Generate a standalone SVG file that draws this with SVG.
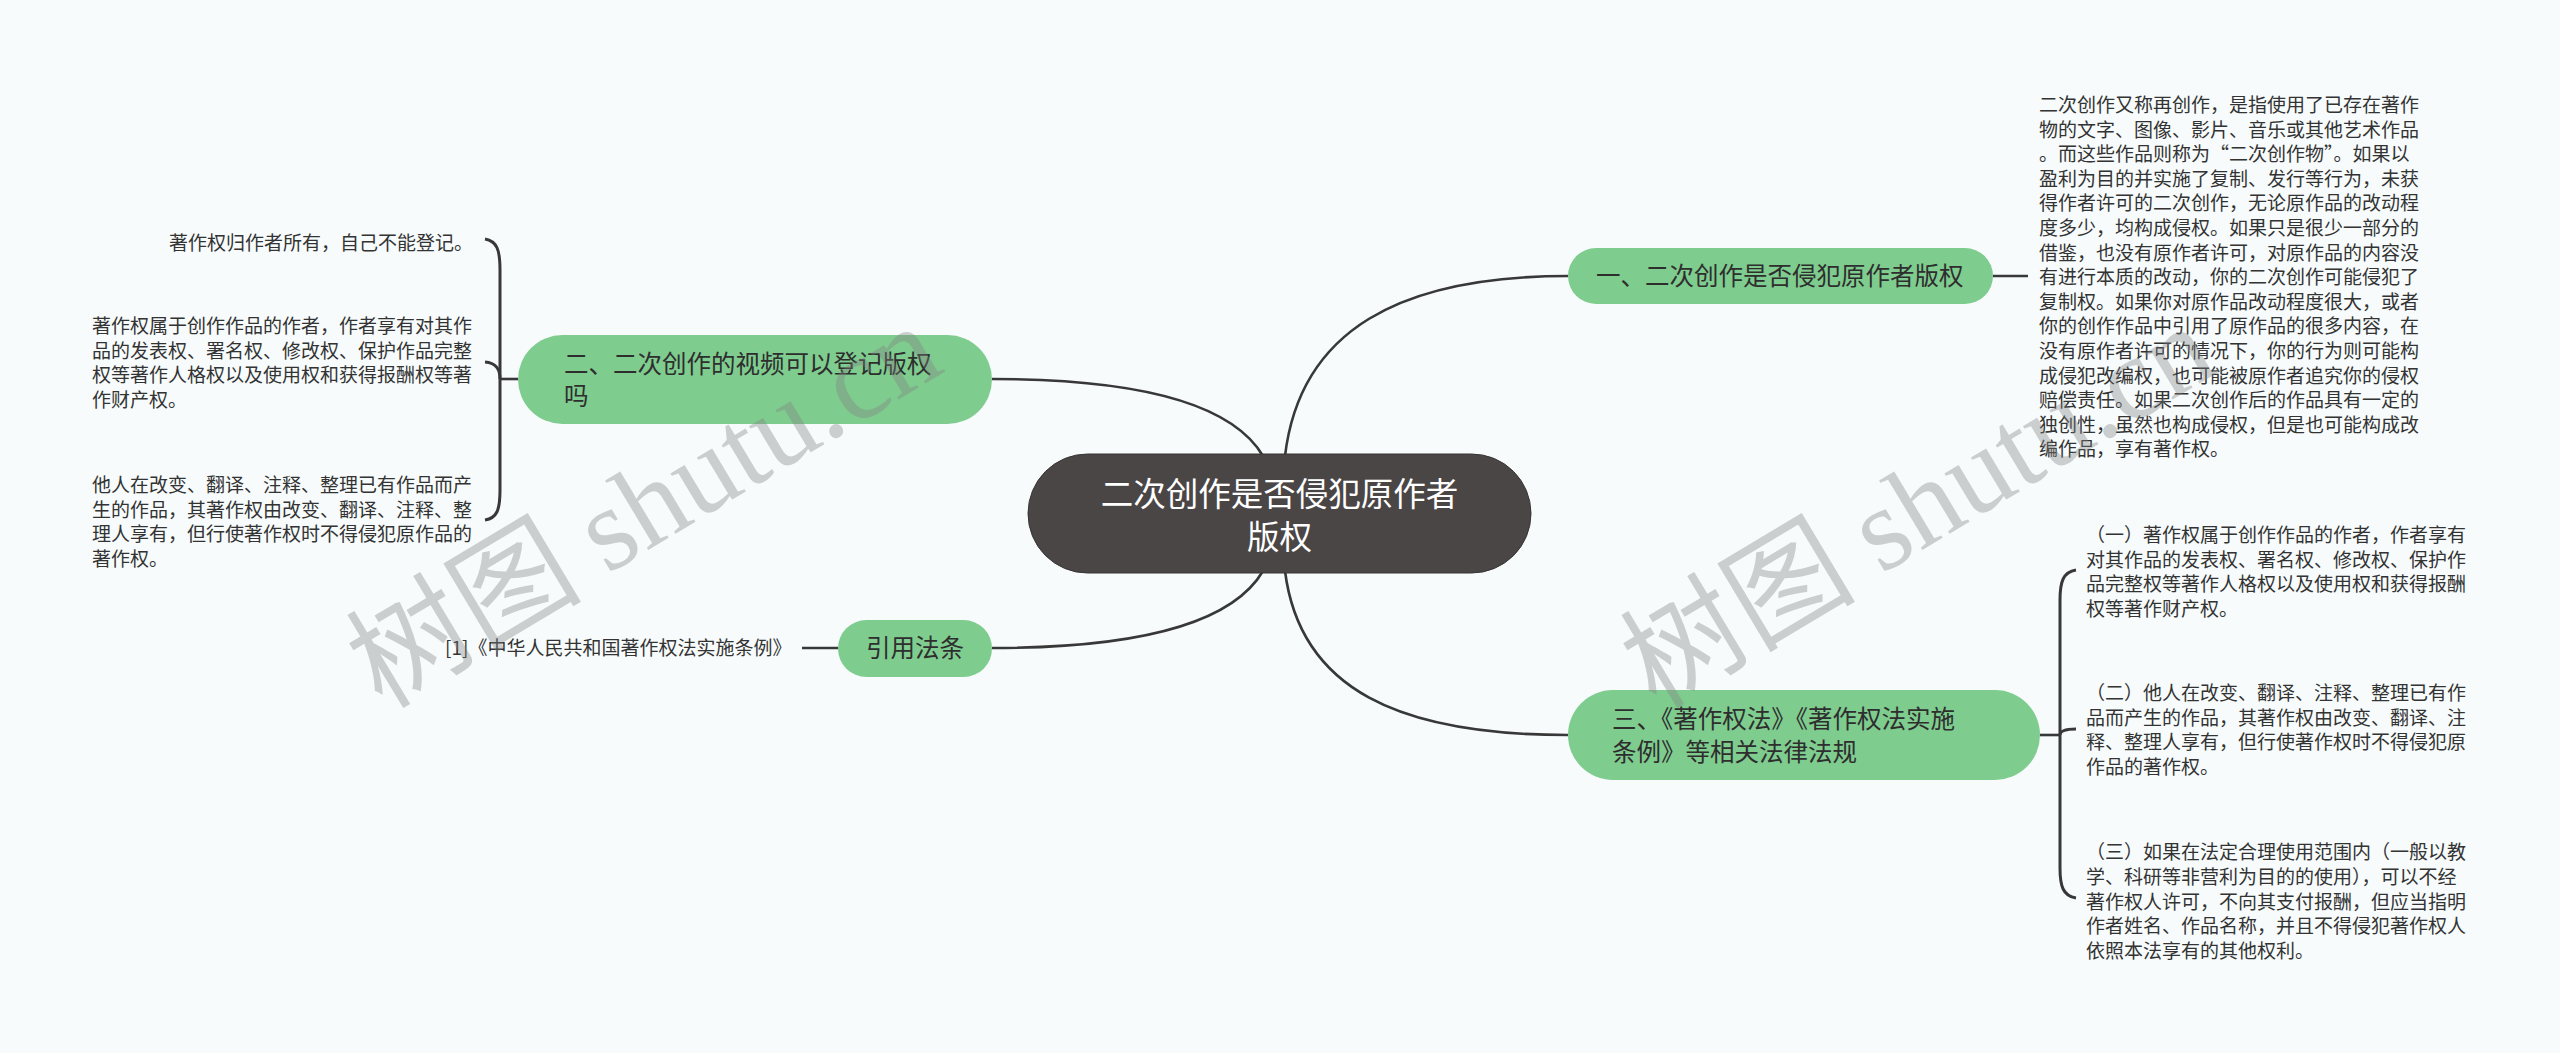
<svg xmlns="http://www.w3.org/2000/svg" width="2560" height="1053" viewBox="0 0 2560 1053">
<style>
text{font-family:"Noto Sans CJK SC","Noto Sans",sans-serif;}
.bg{fill:#f7fbfc;}
.green{fill:#7fcc8f;}
.center{fill:#4b4646;stroke:#383434;stroke-width:1;}
.nt{font-size:24.5px;fill:#2e2e2e;}
.ct{font-size:32.5px;fill:#ffffff;}
.desc{font-size:19px;fill:#333333;}
.conn path{fill:none;stroke:#383838;stroke-width:2.6;}
.conn .br{stroke-width:3;}
.wm{font-size:118px;fill:#808080;opacity:0.36;}
</style>
<rect class="bg" x="0" y="0" width="2560" height="1053"/>

<g id="connectors" class="conn">
  <path d="M1285 456 C1300 330 1400 276 1568 276"/>
  <path d="M1285 571 C1300 690 1400 735 1568 735"/>
  <path d="M992 379 C1130 379 1230 400 1263 456"/>
  <path d="M992 648 C1130 648 1230 627 1263 571"/>
  <path d="M1993 276 H2028"/>
  <path d="M2040 735 H2060"/>
  <path class="br" d="M2076 570 C2063 572 2060 582 2060 600 L2060 868 C2060 886 2063 896 2076 898"/>
  <path class="br" d="M2060 735 C2060 731 2065 729 2076 729"/>
  <path d="M518 379 H500"/>
  <path class="br" d="M485 239 C497 241 500 250 500 270 L500 490 C500 510 497 518 485 520"/>
  <path class="br" d="M485 362 C497 363 500 370 500 379"/>
  <path d="M838 648 H802"/>
</g>

<g id="root">
  <rect class="center" x="1028" y="454" width="503" height="119" rx="59.5"/>
  <text class="ct" x="1279.5" y="506" text-anchor="middle">二次创作是否侵犯原作者</text>
  <text class="ct" x="1279.5" y="549" text-anchor="middle">版权</text>
</g>

<g id="node1">
  <rect class="green" x="1568" y="248" width="425" height="56" rx="28"/>
  <text class="nt" x="1596" y="285">一、二次创作是否侵犯原作者版权</text>
</g>

<g id="node1-desc">
  <text class="desc">
    <tspan x="2039" y="112">二次创作又称再创作，是指使用了已存在著作</tspan>
    <tspan x="2039" y="136.6">物的文字、图像、影片、音乐或其他艺术作品</tspan>
    <tspan x="2039" y="161.2">。而这些作品则称为“二次创作物”。如果以</tspan>
    <tspan x="2039" y="185.8">盈利为目的并实施了复制、发行等行为，未获</tspan>
    <tspan x="2039" y="210.4">得作者许可的二次创作，无论原作品的改动程</tspan>
    <tspan x="2039" y="235">度多少，均构成侵权。如果只是很少一部分的</tspan>
    <tspan x="2039" y="259.6">借鉴，也没有原作者许可，对原作品的内容没</tspan>
    <tspan x="2039" y="284.2">有进行本质的改动，你的二次创作可能侵犯了</tspan>
    <tspan x="2039" y="308.8">复制权。如果你对原作品改动程度很大，或者</tspan>
    <tspan x="2039" y="333.4">你的创作作品中引用了原作品的很多内容，在</tspan>
    <tspan x="2039" y="358">没有原作者许可的情况下，你的行为则可能构</tspan>
    <tspan x="2039" y="382.6">成侵犯改编权，也可能被原作者追究你的侵权</tspan>
    <tspan x="2039" y="407.2">赔偿责任。如果二次创作后的作品具有一定的</tspan>
    <tspan x="2039" y="431.8">独创性，虽然也构成侵权，但是也可能构成改</tspan>
    <tspan x="2039" y="456.4">编作品，享有著作权。</tspan>
  </text>
</g>

<g id="node2">
  <rect class="green" x="518" y="335" width="474" height="89" rx="44.5"/>
  <text class="nt" x="564" y="373">二、二次创作的视频可以登记版权</text>
  <text class="nt" x="564" y="405">吗</text>
</g>

<g id="node2-a">
  <text class="desc" x="169" y="250">著作权归作者所有，自己不能登记。</text>
</g>
<g id="node2-b">
  <text class="desc">
    <tspan x="92" y="333">著作权属于创作作品的作者，作者享有对其作</tspan>
    <tspan x="92" y="357.5">品的发表权、署名权、修改权、保护作品完整</tspan>
    <tspan x="92" y="382">权等著作人格权以及使用权和获得报酬权等著</tspan>
    <tspan x="92" y="406.5">作财产权。</tspan>
  </text>
</g>
<g id="node2-c">
  <text class="desc">
    <tspan x="92" y="492">他人在改变、翻译、注释、整理已有作品而产</tspan>
    <tspan x="92" y="516.5">生的作品，其著作权由改变、翻译、注释、整</tspan>
    <tspan x="92" y="541">理人享有，但行使著作权时不得侵犯原作品的</tspan>
    <tspan x="92" y="565.5">著作权。</tspan>
  </text>
</g>

<g id="node3">
  <rect class="green" x="1568" y="690" width="472" height="90" rx="45"/>
  <text class="nt" x="1612" y="728">三、《著作权法》《著作权法实施</text>
  <text class="nt" x="1612" y="761">条例》等相关法律法规</text>
</g>

<g id="node3-a">
  <text class="desc">
    <tspan x="2086" y="542">（一）著作权属于创作作品的作者，作者享有</tspan>
    <tspan x="2086" y="566.7">对其作品的发表权、署名权、修改权、保护作</tspan>
    <tspan x="2086" y="591.4">品完整权等著作人格权以及使用权和获得报酬</tspan>
    <tspan x="2086" y="616.1">权等著作财产权。</tspan>
  </text>
</g>
<g id="node3-b">
  <text class="desc">
    <tspan x="2086" y="700">（二）他人在改变、翻译、注释、整理已有作</tspan>
    <tspan x="2086" y="724.7">品而产生的作品，其著作权由改变、翻译、注</tspan>
    <tspan x="2086" y="749.4">释、整理人享有，但行使著作权时不得侵犯原</tspan>
    <tspan x="2086" y="774.1">作品的著作权。</tspan>
  </text>
</g>
<g id="node3-c">
  <text class="desc">
    <tspan x="2086" y="859">（三）如果在法定合理使用范围内（一般以教</tspan>
    <tspan x="2086" y="883.8">学、科研等非营利为目的的使用），可以不经</tspan>
    <tspan x="2086" y="908.6">著作权人许可，不向其支付报酬，但应当指明</tspan>
    <tspan x="2086" y="933.4">作者姓名、作品名称，并且不得侵犯著作权人</tspan>
    <tspan x="2086" y="958.2">依照本法享有的其他权利。</tspan>
  </text>
</g>

<g id="cite">
  <rect class="green" x="838" y="620" width="154" height="57" rx="28.5"/>
  <text class="nt" x="915" y="657" text-anchor="middle">引用法条</text>
</g>
<g id="cite-ref">
  <text class="desc" x="445" y="655">[1]《中华人民共和国著作权法实施条例》</text>
</g>

<g id="watermarks">
  <text class="wm" x="382" y="710" transform="rotate(-31 382 710)">树图 <tspan font-family="Liberation Serif, serif">shutu.cn</tspan></text>
  <text class="wm" x="1656" y="710" transform="rotate(-31 1656 710)">树图 <tspan font-family="Liberation Serif, serif">shutu.cn</tspan></text>
</g>
</svg>
